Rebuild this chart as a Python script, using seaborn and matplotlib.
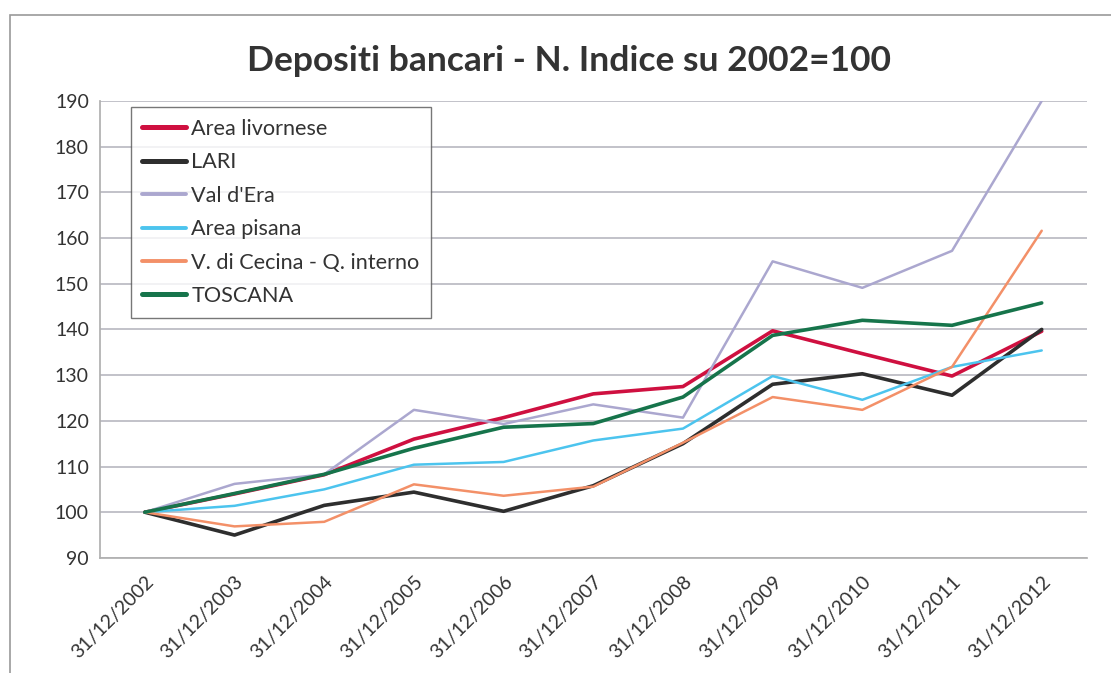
import matplotlib
matplotlib.use("Agg")
import matplotlib.pyplot as plt
import seaborn as sns
import numpy as np
from matplotlib.lines import Line2D
from matplotlib.patches import Rectangle

# DATA
anni = ["31/12/2002", "31/12/2003", "31/12/2004", "31/12/2005", "31/12/2006",
        "31/12/2007", "31/12/2008", "31/12/2009", "31/12/2010", "31/12/2011",
        "31/12/2012"]
area_livornese = [100, 104.0, 108.2, 116.0, 120.7, 125.9, 127.5, 139.7, 134.7, 129.8, 139.6]
lari = [100, 95.0, 101.5, 104.4, 100.2, 105.8, 115.0, 128.0, 130.3, 125.6, 140.0]
val_dera = [100, 106.2, 108.3, 122.4, 119.3, 123.6, 120.7, 154.9, 149.1, 157.2, 190.0]
area_pisana = [100, 101.4, 105.0, 110.4, 111.0, 115.7, 118.3, 129.8, 124.6, 131.8, 135.4]
cecina = [100, 96.9, 97.9, 106.1, 103.6, 105.6, 115.2, 125.2, 122.4, 131.8, 161.6]
toscana = [100, 104.1, 108.3, 114.0, 118.6, 119.4, 125.2, 138.7, 142.0, 140.9, 145.8]

serie = [
    ("Area livornese", area_livornese, "#cf1040", 2.6),
    ("LARI", lari, "#2e2e2e", 2.6),
    ("Val d'Era", val_dera, "#aba7cf", 1.8),
    ("Area pisana", area_pisana, "#4cc4ee", 1.8),
    ("V. di Cecina - Q. interno", cecina, "#f39068", 1.8),
    ("TOSCANA", toscana, "#16744b", 2.6),
]

sns.set_theme(style="white")
plt.rcParams['font.family'] = ['Lato', 'DejaVu Sans']

fig = plt.figure(figsize=(11.11, 6.73), dpi=100)
ax = fig.add_axes([0.090, 0.171, 0.888, 0.679])

x = np.arange(len(anni))
for nome, valori, colore, lw in serie:
    sns.lineplot(x=x, y=valori, ax=ax, color=colore, linewidth=lw,
                 label=nome, legend=False)

ax.set_ylim(90, 190)
ax.set_yticks(range(90, 191, 10))
ax.set_xlim(-0.5, len(anni) - 0.5)
ax.set_xticks(x)
ax.set_xticklabels(anni, rotation=45, ha="right", rotation_mode="anchor")
ax.set_xticks(np.arange(-0.5, len(anni)), minor=True)
ax.tick_params(axis="x", which="major", length=0, pad=11, labelsize=14,
               labelcolor="#333333")
ax.tick_params(axis="x", which="minor", length=6, color="#b0b0b0", width=1,
               direction="out")
ax.tick_params(axis="y", length=0, labelsize=14, labelcolor="#333333", pad=8)
ax.grid(axis="y", color="#b8b8c0", linewidth=1.2)
ax.set_axisbelow(True)
for lato in ["top", "right"]:
    ax.spines[lato].set_visible(False)
ax.spines["left"].set_color("#b0b0b0")
ax.spines["bottom"].set_color("#b0b0b0")
ax.set_xlabel("")
ax.set_ylabel("")

handles = [Line2D([0], [0], color=c, lw=lw + 1) for _, _, c, lw in serie]
leg = ax.legend(handles, [s[0] for s in serie], loc="upper left",
                bbox_to_anchor=(0.031, 0.987), fontsize=15.6, frameon=True,
                fancybox=False, edgecolor="#555555", handlelength=2.0,
                handletextpad=0.25, labelspacing=0.62, borderpad=0.55,
                borderaxespad=0.0)
leg.get_frame().set_linewidth(1.0)
for t in leg.get_texts():
    t.set_color("#333333")

fig.text(0.512, 0.91, "Depositi bancari - N. Indice su 2002=100",
         ha="center", va="center", fontsize=25.5, fontweight="bold",
         color="#333333")

# riquadro del grafico
fig.add_artist(Rectangle((0.009, -0.05), 1.1, 1.028, fill=False,
                         edgecolor="#9a9a9a", lw=1.2,
                         transform=fig.transFigure))

fig.savefig("out.png", dpi=100)
